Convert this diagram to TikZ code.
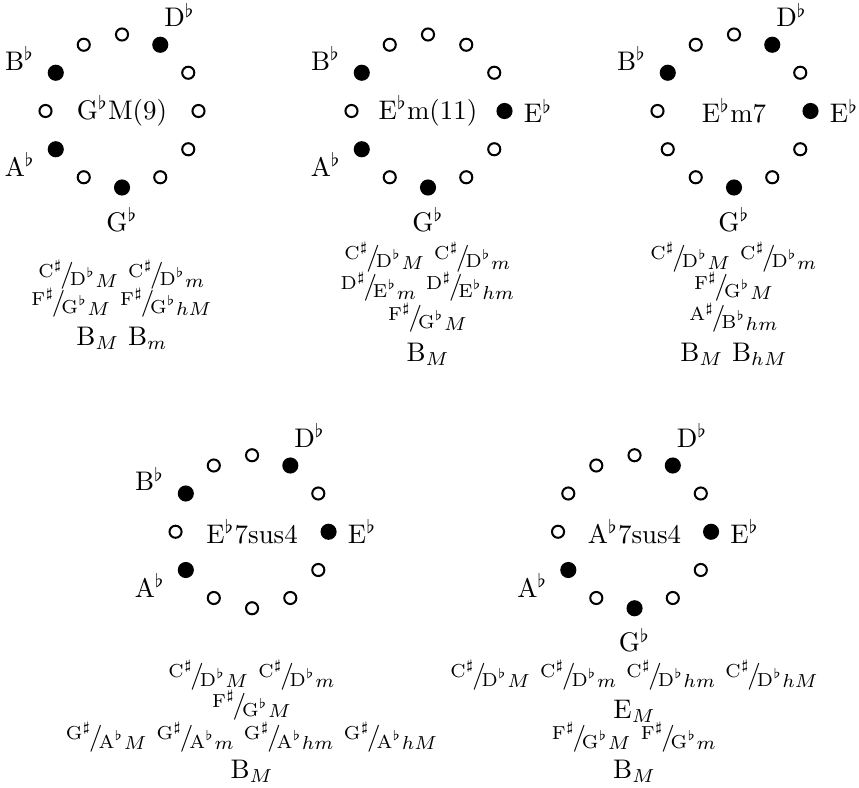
\documentclass[tikz,border=0pt]{standalone}

\newcommand{\fl}[1]{#1$^\flat$}
\newcommand{\enh}[3]{$\raise.5ex\hbox{$\scriptstyle\mathrm{#1}^\sharp$}\kern-.1em/\kern-.15em\lower.25ex\hbox{$\scriptstyle\mathrm{#2}^\flat$}{}_{#3}$}

\tikzset{
  hole/.style={circle, draw, line width=0.75pt, inner sep=0pt, minimum size=4.5pt},
  tone/.style={circle, fill, inner sep=0pt, minimum size=6pt},
  lab/.style={anchor=center, label distance=#1},
  txt/.style={anchor=base, inner sep=0pt},
}

\begin{document}
\begin{tikzpicture}
  \useasboundingbox (-1.595,1.451) rectangle (9.634,-8.837);

  % Gb M(9)
  \begin{scope}[shift={(0,0)}]
    \foreach \k in {0,2,3,4,5,7,9,11}
      \node[hole] (a\k) at ({90-30*\k}:1) {};
    \node[tone, label={[lab=10pt]57:\fl{D}}] (a1) at (60:1) {};
    \node[tone, label={[lab=8.7pt]-90:\fl{G}}] (a6) at (-90:1) {};
    \node[tone, label={[lab=11.3pt]203:\fl{A}}] (a8) at (210:1) {};
    \node[tone, label={[lab=11.3pt]158:\fl{B}}] (a10) at (150:1) {};
    \node (a) at (0,0) {\fl{G}M(9)};
    \node[txt] (a-l1) at (0,-2.248) {\enh{C}{D}{M} \enh{C}{D}{m}};
    \node[txt] (a-l2) at (0,-2.614) {\enh{F}{G}{M} \enh{F}{G}{hM}};
    \node[txt] (a-l3) at (0,-3.065) {B$_M$ B$_m$};
  \end{scope}

  % Eb m(11)
  \begin{scope}[shift={(4,0)}]
    \foreach \k in {0,1,2,4,5,7,9,11}
      \node[hole] (b\k) at ({90-30*\k}:1) {};
    \node[tone, label={[lab=9.3pt]0:\fl{E}}] (b3) at (0:1) {};
    \node[tone, label={[lab=8.7pt]-90:\fl{G}}] (b6) at (-90:1) {};
    \node[tone, label={[lab=11.3pt]203:\fl{A}}] (b8) at (210:1) {};
    \node[tone, label={[lab=11.3pt]158:\fl{B}}] (b10) at (150:1) {};
    \node (b) at (0,0) {\fl{E}m(11)};
    \node[txt] (b-l1) at (0,-2.013) {\enh{C}{D}{M} \enh{C}{D}{m}};
    \node[txt] (b-l2) at (0,-2.405) {\enh{D}{E}{m} \enh{D}{E}{hm}};
    \node[txt] (b-l3) at (0,-2.810) {\enh{F}{G}{M}};
    \node[txt] (b-l4) at (0,-3.268) {B$_M$};
  \end{scope}

  % Eb m7
  \begin{scope}[shift={(8,0)}]
    \foreach \k in {0,2,4,5,7,8,9,11}
      \node[hole] (c\k) at ({90-30*\k}:1) {};
    \node[tone, label={[lab=10pt]57:\fl{D}}] (c1) at (60:1) {};
    \node[tone, label={[lab=9.3pt]0:\fl{E}}] (c3) at (0:1) {};
    \node[tone, label={[lab=8.7pt]-90:\fl{G}}] (c6) at (-90:1) {};
    \node[tone, label={[lab=11.3pt]158:\fl{B}}] (c10) at (150:1) {};
    \node (c) at (0,0) {\fl{E}m7};
    \node[txt] (c-l1) at (0,-2.013) {\enh{C}{D}{M} \enh{C}{D}{m}};
    \node[txt] (c-l2) at (0,-2.405) {\enh{F}{G}{M}};
    \node[txt] (c-l3) at (0,-2.810) {\enh{A}{B}{hm}};
    \node[txt] (c-l4) at (0,-3.268) {B$_M$ B$_{hM}$};
  \end{scope}

  % Eb 7sus4
  \begin{scope}[shift={(1.7,-5.5)}]
    \foreach \k in {0,2,4,5,6,7,9,11}
      \node[hole] (d\k) at ({90-30*\k}:1) {};
    \node[tone, label={[lab=10pt]57:\fl{D}}] (d1) at (60:1) {};
    \node[tone, label={[lab=9.3pt]0:\fl{E}}] (d3) at (0:1) {};
    \node[tone, label={[lab=11.3pt]203:\fl{A}}] (d8) at (210:1) {};
    \node[tone, label={[lab=11.3pt]158:\fl{B}}] (d10) at (150:1) {};
    \node (d) at (0,0) {\fl{E}7sus4};
    \node[txt] (d-l1) at (0,-1.987) {\enh{C}{D}{M} \enh{C}{D}{m}};
    \node[txt] (d-l2) at (0,-2.379) {\enh{F}{G}{M}};
    \node[txt] (d-l3) at (0,-2.797) {\enh{G}{A}{M} \enh{G}{A}{m} \enh{G}{A}{hm} \enh{G}{A}{hM}};
    \node[txt] (d-l4) at (0,-3.229) {B$_M$};
  \end{scope}

  % Ab 7sus4
  \begin{scope}[shift={(6.7,-5.5)}]
    \foreach \k in {0,2,4,5,7,9,10,11}
      \node[hole] (e\k) at ({90-30*\k}:1) {};
    \node[tone, label={[lab=10pt]57:\fl{D}}] (e1) at (60:1) {};
    \node[tone, label={[lab=9.3pt]0:\fl{E}}] (e3) at (0:1) {};
    \node[tone, label={[lab=8.7pt]-90:\fl{G}}] (e6) at (-90:1) {};
    \node[tone, label={[lab=11.3pt]203:\fl{A}}] (e8) at (210:1) {};
    \node (e) at (0,0) {\fl{A}7sus4};
    \node[txt] (e-l1) at (0,-1.987) {\enh{C}{D}{M} \enh{C}{D}{m} \enh{C}{D}{hm} \enh{C}{D}{hM}};
    \node[txt] (e-l2) at (0,-2.44) {E$_M$};
    \node[txt] (e-l3) at (0,-2.797) {\enh{F}{G}{M} \enh{F}{G}{m}};
    \node[txt] (e-l4) at (0,-3.229) {B$_M$};
  \end{scope}
\end{tikzpicture}
\end{document}
